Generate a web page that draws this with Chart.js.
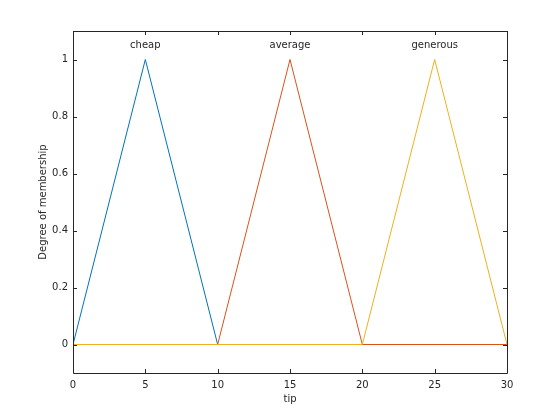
<!DOCTYPE html>
<html>
<head>
<meta charset="utf-8">
<script src="https://cdn.jsdelivr.net/npm/chart.js@4"></script>
<style>
html,body{margin:0;padding:0;background:#fff;}
#wrap{width:560px;height:420px;}
</style>
</head>
<body>
<div id="wrap"><canvas id="c" width="560" height="420"></canvas></div>
<script>
const seriesNames = ['cheap', 'average', 'generous'];
const cheapX = [0, 5, 10, 30];
const cheapY = [0, 1, 0, 0];
const averageX = [0, 10, 15, 20, 30];
const averageY = [0, 0, 1, 0, 0];
const generousX = [0, 20, 25, 30];
const generousY = [0, 0, 1, 0];
const peakX = [5, 15, 25];
const labelY = [1.05, 1.05, 1.05];
const xTicks = [0, 5, 10, 15, 20, 25, 30];
const yTicks = [0, 0.2, 0.4, 0.6, 0.8, 1];
const colors = ['#0072BD', '#D95319', '#EDB120'];
const axisColor = '#262626';

function pts(xs, ys) { return xs.map((x, i) => ({x: x, y: ys[i]})); }

const FONT = 'DejaVu Sans';

const framePlugin = {
  id: 'frame',
  afterDatasetsDraw(chart) {
    const ctx = chart.ctx, a = chart.chartArea;
    const xs = chart.scales.x, ys = chart.scales.y;
    ctx.save();
    ctx.strokeStyle = axisColor;
    ctx.lineWidth = 1;
    ctx.beginPath();
    ctx.rect(Math.round(a.left) + 0.5, Math.round(a.top) + 0.5,
             Math.round(a.right - a.left), Math.round(a.bottom - a.top));
    ctx.stroke();
    const L = 4;
    ctx.beginPath();
    xTicks.forEach(v => {
      const p = Math.round(xs.getPixelForValue(v)) + 0.5;
      ctx.moveTo(p, a.bottom); ctx.lineTo(p, a.bottom - L);
      ctx.moveTo(p, a.top); ctx.lineTo(p, a.top + L);
    });
    yTicks.forEach(v => {
      const p = Math.round(ys.getPixelForValue(v)) + 0.5;
      ctx.moveTo(a.left, p); ctx.lineTo(a.left + L, p);
      ctx.moveTo(a.right, p); ctx.lineTo(a.right - L, p);
    });
    ctx.stroke();
    ctx.fillStyle = axisColor;
    ctx.font = '10px "' + FONT + '"';
    ctx.textAlign = 'center';
    ctx.textBaseline = 'middle';
    seriesNames.forEach((n, i) => {
      ctx.fillText(n, xs.getPixelForValue(peakX[i]), ys.getPixelForValue(labelY[i]));
    });
    ctx.restore();
  }
};

new Chart(document.getElementById('c'), {
  type: 'scatter',
  data: {
    datasets: [
      {label: seriesNames[0], data: pts(cheapX, cheapY), order: 3},
      {label: seriesNames[1], data: pts(averageX, averageY), order: 2},
      {label: seriesNames[2], data: pts(generousX, generousY), order: 1}
    ].map((d, i) => Object.assign(d, {
      showLine: true, borderColor: colors[i], backgroundColor: colors[i],
      borderWidth: 1, pointRadius: 0, tension: 0, fill: false
    }))
  },
  options: {
    responsive: false,
    animation: false,
    devicePixelRatio: 1,
    layout: {padding: {left: 0, top: 31, right: 53, bottom: 0}},
    plugins: {legend: {display: false}, tooltip: {enabled: false}},
    scales: {
      x: {
        type: 'linear', min: 0, max: 30,
        afterBuildTicks: s => { s.ticks = xTicks.map(v => ({value: v})); },
        afterFit: s => { s.height = 47; },
        grid: {display: false, drawTicks: false},
        border: {display: false},
        ticks: {color: axisColor, font: {family: FONT, size: 10}, padding: 6, maxRotation: 0},
        title: {display: true, text: 'tip', color: axisColor, font: {family: FONT, size: 10}, padding: {top: 0, bottom: 15}}
      },
      y: {
        type: 'linear', min: -0.1, max: 1.1,
        afterBuildTicks: s => { s.ticks = yTicks.map(v => ({value: v})); },
        afterFit: s => { s.width = 73; },
        grid: {display: false, drawTicks: false},
        border: {display: false},
        ticks: {color: axisColor, font: {family: FONT, size: 10}, padding: 5,
                callback: v => String(Math.round(v * 10) / 10)},
        title: {display: true, text: 'Degree of membership', color: axisColor, font: {family: FONT, size: 10}, padding: {top: 37, bottom: 0}}
      }
    }
  },
  plugins: [framePlugin]
});
</script>
</body>
</html>
